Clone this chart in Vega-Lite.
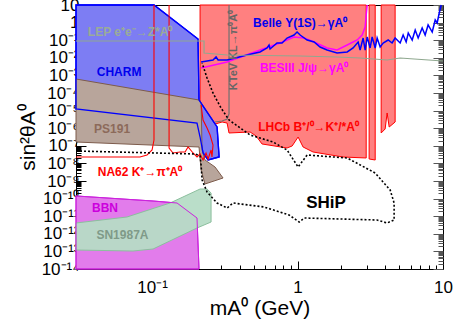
{
  "$schema": "https://vega.github.io/schema/vega-lite/v6.json",
  "autosize": "none",
  "padding": {"left": 76, "top": 5, "right": 11, "bottom": 58},
  "width": 367,
  "height": 264,
  "config": {"font": "Liberation Sans", "view": {"stroke": "black", "strokeWidth": 1}},
  "datasets": {
    "lhcb": [
      {"part": "a", "m": 0.2138, "s": 10}, {"part": "a", "m": 2.965, "s": 10}, {"part": "a", "m": 2.965, "s": 2.03e-8},
      {"part": "a", "m": 2.056, "s": 2.31e-8}, {"part": "a", "m": 1.279, "s": 4.44e-8}, {"part": "a", "m": 1.092, "s": 8.55e-8},
      {"part": "a", "m": 1.009, "s": 3.16e-7}, {"part": "a", "m": 0.918, "s": 9.75e-8}, {"part": "a", "m": 0.847, "s": 7.5e-8},
      {"part": "a", "m": 0.570, "s": 1.27e-7}, {"part": "a", "m": 0.519, "s": 3.6e-7}, {"part": "a", "m": 0.472, "s": 6.08e-7},
      {"part": "a", "m": 0.338, "s": 5.34e-7}, {"part": "a", "m": 0.328, "s": 1.97e-6}, {"part": "a", "m": 0.303, "s": 2.25e-6},
      {"part": "a", "m": 0.258, "s": 1.52e-6}, {"part": "a", "m": 0.224, "s": 5.62e-6}, {"part": "a", "m": 0.2138, "s": 2.08e-5},
      {"part": "b", "m": 3.105, "s": 10}, {"part": "b", "m": 3.419, "s": 10}, {"part": "b", "m": 3.419, "s": 1.56e-8}, {"part": "b", "m": 3.105, "s": 1.78e-8},
      {"part": "c", "m": 3.758, "s": 10}, {"part": "c", "m": 4.688, "s": 10}, {"part": "c", "m": 4.688, "s": 2.25e-6},
      {"part": "c", "m": 4.266, "s": 1.17e-6}, {"part": "c", "m": 4.13, "s": 7.31e-6}, {"part": "c", "m": 4.001, "s": 9.01e-7},
      {"part": "c", "m": 3.758, "s": 5.34e-7}
    ],
    "charm": [
      {"m": 0.03, "s": 10}, {"m": 0.1031, "s": 10}, {"m": 0.207, "s": 0.117}, {"m": 0.2103, "s": 4.0e-5},
      {"m": 0.2799, "s": 1.17e-6}, {"m": 0.2891, "s": 2.31e-8}, {"m": 0.2427, "s": 1.56e-8}, {"m": 0.2241, "s": 3.9e-8},
      {"m": 0.2138, "s": 3.16e-7}, {"m": 0.2037, "s": 1.97e-6}, {"m": 0.03, "s": 1.23e-5}
    ],
    "ps191": [
      {"m": 0.03, "s": 6.24e-4}, {"m": 0.2103, "s": 4.0e-5}, {"m": 0.2173, "s": 2.7e-5}, {"m": 0.2208, "s": 5.77e-8},
      {"m": 0.2312, "s": 1.56e-8}, {"m": 0.271, "s": 6.24e-9}, {"m": 0.3076, "s": 1.48e-9}, {"m": 0.2312, "s": 6.76e-10},
      {"m": 0.2173, "s": 4.22e-9}, {"m": 0.2103, "s": 8.55e-8}, {"m": 0.03, "s": 1.64e-7}
    ],
    "bbn": [
      {"m": 0.03, "s": 1.41e-10}, {"m": 0.1016, "s": 7.3e-11}, {"m": 0.1485, "s": 5.62e-11}, {"m": 0.2037, "s": 7.9e-12},
      {"m": 0.2103, "s": 1e-14}, {"m": 0.03, "s": 1e-14}
    ],
    "sn": [
      {"m": 0.03, "s": 4.11e-12}, {"m": 0.0673, "s": 9.01e-12}, {"m": 0.1329, "s": 5.62e-11}, {"m": 0.2138, "s": 3.51e-10},
      {"m": 0.2388, "s": 3.51e-10}, {"m": 0.2545, "s": 2.08e-10}, {"m": 0.2545, "s": 4.68e-12}, {"m": 0.2037, "s": 2.14e-12},
      {"m": 0.1016, "s": 1.37e-13}, {"m": 0.074, "s": 1.05e-13}, {"m": 0.03, "s": 1.2e-13}
    ],
    "na62": [
      {"part": "a", "m": 0.03, "s": 2.31e-8}, {"part": "a", "m": 0.0826, "s": 2.31e-8}, {"part": "a", "m": 0.0923, "s": 3.0e-8},
      {"part": "a", "m": 0.1, "s": 5.77e-8}, {"part": "a", "m": 0.1031, "s": 2.14e-7}, {"part": "a", "m": 0.1031, "s": 10},
      {"part": "b", "m": 0.1309, "s": 10}, {"part": "b", "m": 0.1309, "s": 7.5e-8}, {"part": "b", "m": 0.1393, "s": 3.9e-8},
      {"part": "b", "m": 0.1556, "s": 4.44e-8}, {"part": "b", "m": 0.1686, "s": 4.44e-8}, {"part": "b", "m": 0.1768, "s": 8.55e-8},
      {"part": "b", "m": 0.1914, "s": 3.9e-8}, {"part": "b", "m": 0.2037, "s": 2.31e-8}, {"part": "b", "m": 0.2138, "s": 3.42e-8},
      {"part": "b", "m": 0.2241, "s": 1.56e-8}, {"part": "b", "m": 0.235, "s": 3.9e-8}, {"part": "b", "m": 0.2427, "s": 1.78e-8},
      {"part": "b", "m": 0.2545, "s": 5.77e-8}, {"part": "b", "m": 0.2582, "s": 2.31e-8}, {"part": "b", "m": 0.2624, "s": 1.11e-7},
      {"part": "b", "m": 0.2506, "s": 4.11e-7}, {"part": "b", "m": 0.2388, "s": 1.03e-6}, {"part": "b", "m": 0.2241, "s": 2.92e-6},
      {"part": "b", "m": 0.2173, "s": 2.08e-5}
    ],
    "ship": [
      {"m": 0.03, "s": 5.07e-8}, {"m": 0.1064, "s": 3.9e-8}, {"m": 0.1974, "s": 3.42e-8}, {"m": 0.2138, "s": 2.63e-8},
      {"m": 0.2173, "s": 8.11e-9}, {"m": 0.2208, "s": 1.14e-9}, {"m": 0.2388, "s": 2.37e-10}, {"m": 0.2799, "s": 5.62e-11},
      {"m": 0.3281, "s": 2.92e-11}, {"m": 0.3606, "s": 5.62e-11}, {"m": 0.5888, "s": 3.33e-11}, {"m": 0.875, "s": 1.17e-11},
      {"m": 1.026, "s": 4.68e-12}, {"m": 1.11, "s": 7.9e-12}, {"m": 3.525, "s": 6.08e-12}, {"m": 4.13, "s": 4.11e-12},
      {"m": 4.613, "s": 6.08e-12}, {"m": 4.613, "s": 5.62e-11}, {"m": 4.334, "s": 3.08e-10}, {"m": 3.419, "s": 2.85e-9},
      {"m": 2.195, "s": 2.03e-8}, {"m": 1.164, "s": 3.0e-8}, {"m": 1.009, "s": 6.24e-9}, {"m": 0.8474, "s": 5.77e-8},
      {"m": 0.6792, "s": 1.64e-7}, {"m": 0.4721, "s": 4.11e-7}, {"m": 0.3381, "s": 2.92e-6}, {"m": 0.2979, "s": 1.41e-5},
      {"m": 0.2624, "s": 1.0e-4}, {"m": 0.2388, "s": 7.11e-4}, {"m": 0.2208, "s": 5.07e-3}
    ],
    "belle": [
      {"m": 0.2173, "s": 5.77e-3}, {"m": 0.2624, "s": 7.5e-3}, {"m": 0.2754, "s": 1.11e-2}, {"m": 0.2844, "s": 7.5e-3},
      {"m": 0.3281, "s": 7.5e-3}, {"m": 0.4498, "s": 1.44e-2}, {"m": 0.5521, "s": 2.14e-2}, {"m": 0.6174, "s": 3.61e-2},
      {"m": 0.6371, "s": 5.34e-2}, {"m": 0.6475, "s": 3.16e-2}, {"m": 0.7228, "s": 6.94e-2}, {"m": 0.7828, "s": 6.94e-2},
      {"m": 0.8474, "s": 0.133}, {"m": 0.9462, "s": 0.197}, {"m": 0.9931, "s": 0.292}, {"m": 1.042, "s": 0.197},
      {"m": 1.164, "s": 0.1026}, {"m": 1.3, "s": 0.0791}, {"m": 1.429, "s": 0.0411}, {"m": 1.596, "s": 0.0277},
      {"m": 1.871, "s": 0.0187}, {"m": 2.195, "s": 0.0214}, {"m": 2.41, "s": 0.0361}, {"m": 2.61, "s": 0.0791},
      {"m": 2.692, "s": 0.0277}, {"m": 2.825, "s": 0.133}, {"m": 2.917, "s": 0.0277}, {"m": 3.013, "s": 0.152},
      {"m": 3.155, "s": 0.0361}, {"m": 3.258, "s": 0.152}, {"m": 3.419, "s": 0.0361}, {"m": 3.525, "s": 0.133},
      {"m": 3.698, "s": 0.0411}, {"m": 3.878, "s": 0.0694}, {"m": 4.198, "s": 0.1026}, {"m": 4.467, "s": 0.0694},
      {"m": 4.688, "s": 0.133}, {"m": 5.075, "s": 0.0694}, {"m": 5.32, "s": 0.197}, {"m": 5.58, "s": 0.0791},
      {"m": 5.77, "s": 0.257}, {"m": 6.14, "s": 0.1026}, {"m": 6.44, "s": 0.38}, {"m": 6.75, "s": 0.133},
      {"m": 7.19, "s": 0.493}, {"m": 7.538, "s": 0.197}, {"m": 7.9, "s": 0.731}, {"m": 8.43, "s": 0.292},
      {"m": 8.84, "s": 1.41}, {"m": 9.12, "s": 0.948}, {"m": 9.42, "s": 3.51}, {"m": 9.72, "s": 10}
    ],
    "besiii": [
      {"m": 0.2173, "s": 2.63e-3}, {"m": 0.3281, "s": 5.77e-3}, {"m": 0.5521, "s": 0.0277}, {"m": 0.7586, "s": 0.0694},
      {"m": 0.9462, "s": 0.152}, {"m": 1.11, "s": 0.133}, {"m": 1.3, "s": 0.0791}, {"m": 1.596, "s": 0.0361},
      {"m": 1.871, "s": 0.0277}, {"m": 2.195, "s": 0.0534}, {"m": 2.57, "s": 0.1026}, {"m": 2.78, "s": 0.197},
      {"m": 2.917, "s": 0.562}, {"m": 2.965, "s": 2.7}, {"m": 3.013, "s": 10}
    ],
    "lep": [
      {"m": 0.03, "s": 0.0901}, {"m": 0.2277, "s": 0.0901}, {"m": 0.2277, "s": 0.0187}, {"m": 0.3281, "s": 0.0144},
      {"m": 1.042, "s": 0.01265}, {"m": 1.871, "s": 0.0111}, {"m": 2.692, "s": 0.00975}, {"m": 4.13, "s": 0.0075},
      {"m": 5.075, "s": 0.00975}, {"m": 6.339, "s": 0.00855}, {"m": 10, "s": 0.00658}
    ],
    "ktev": [
      {"m": 0.3381, "s": 10}, {"m": 0.3381, "s": 6.41e-6}, {"m": 0.3281, "s": 3.33e-6}, {"m": 0.3027, "s": 2.56e-6}, {"m": 0.271, "s": 2.25e-6}
    ],
    "streaks": [{"m": 0.0368}, {"m": 0.077}, {"m": 0.1607}, {"m": 0.69}, {"m": 1.429}],
    "labels": [
      {"m": 0.0706, "s": 0.292, "label": "LEP e⁺e⁻→Z*A⁰"},
      {"m": 0.0593, "s": 1.56e-3, "label": "CHARM"},
      {"m": 0.0531, "s": 9.01e-7, "label": "PS191"},
      {"m": 0.0826, "s": 3.25e-9, "label": "NA62 K⁺→π⁺A⁰"},
      {"m": 0.0475, "s": 2.92e-11, "label": "BBN"},
      {"m": 0.0626, "s": 9.01e-13, "label": "SN1987A"},
      {"m": 1.042, "s": 0.948, "label": "Belle Υ(1S)→γA⁰"},
      {"m": 1.11, "s": 2.63e-3, "label": "BESIII J/ψ→γA⁰"},
      {"m": 1.19, "s": 1.17e-6, "label": "LHCb B⁺/⁰→K⁺/*A⁰"}
    ],
    "ktevlabel": [{"m": 0.3664, "s": 0.0277, "label": "KTeV KL→π⁰A⁰"}],
    "shiplabel": [{"m": 1.57, "s": 5.62e-11, "label": "SHiP"}]
  },
  "layer": [
    {
      "encoding": {
        "x": {
          "field": "m", "type": "quantitative",
          "scale": {"type": "log", "domain": [0.03, 10], "nice": false},
          "axis": {
            "values": [0.03, 0.04, 0.05, 0.06, 0.07, 0.08, 0.09, 0.1, 0.2, 0.3, 0.4, 0.5, 0.6, 0.7, 0.8, 0.9, 1, 2, 3, 4, 5, 6, 7, 8, 9, 10],
            "labelExpr": "datum.value == 0.1 ? '10⁻¹' : (datum.value == 1 ? '1' : (datum.value == 10 ? '10' : ''))",
            "labelFontSize": 17, "labelColor": "black", "labelPadding": 18,
            "labelOverlap": false, "labelFlush": false, "labelBound": false,
            "tickColor": "black",
            "tickSize": {"condition": {"test": "datum.value == 0.1 || datum.value == 1 || datum.value == 10", "value": -8}, "value": -4},
            "domainColor": "black", "grid": false,
            "title": "mA⁰ (GeV)", "titleFontSize": 21, "titleFontWeight": "normal", "titleColor": "black", "titlePadding": -2
          }
        },
        "y": {
          "field": "s", "type": "quantitative",
          "scale": {"type": "log", "domain": [1e-14, 10], "nice": false},
          "axis": {
            "values": [1e-14,2e-14,3e-14,4e-14,5e-14,6e-14,7e-14,8e-14,9e-14,1e-13,2e-13,3e-13,4e-13,5e-13,6e-13,7e-13,8e-13,9e-13,1e-12,2e-12,3e-12,4e-12,5e-12,6e-12,7e-12,8e-12,9e-12,1e-11,2e-11,3e-11,4e-11,5e-11,6e-11,7e-11,8e-11,9e-11,1e-10,2e-10,3e-10,4e-10,5e-10,6e-10,7e-10,8e-10,9e-10,1e-9,2e-9,3e-9,4e-9,5e-9,6e-9,7e-9,8e-9,9e-9,1e-8,2e-8,3e-8,4e-8,5e-8,6e-8,7e-8,8e-8,9e-8,1e-7,2e-7,3e-7,4e-7,5e-7,6e-7,7e-7,8e-7,9e-7,1e-6,2e-6,3e-6,4e-6,5e-6,6e-6,7e-6,8e-6,9e-6,1e-5,2e-5,3e-5,4e-5,5e-5,6e-5,7e-5,8e-5,9e-5,1e-4,2e-4,3e-4,4e-4,5e-4,6e-4,7e-4,8e-4,9e-4,1e-3,2e-3,3e-3,4e-3,5e-3,6e-3,7e-3,8e-3,9e-3,0.01,0.02,0.03,0.04,0.05,0.06,0.07,0.08,0.09,0.1,0.2,0.3,0.4,0.5,0.6,0.7,0.8,0.9,1,2,3,4,5,6,7,8,9,10],
            "labelExpr": "abs(log(datum.value)/LN10 - round(log(datum.value)/LN10)) < 1e-6 ? ['10⁻¹⁴','10⁻¹³','10⁻¹²','10⁻¹¹','10⁻¹⁰','10⁻⁹','10⁻⁸','10⁻⁷','10⁻⁶','10⁻⁵','10⁻⁴','10⁻³','10⁻²','10⁻¹','1','10'][round(log(datum.value)/LN10) + 14] : ''",
            "labelFontSize": 17, "labelColor": "black", "labelPadding": 7,
            "labelOverlap": false, "labelFlush": false, "labelBound": false,
            "tickColor": "black",
            "tickSize": {"condition": {"test": "abs(log(datum.value)/LN10 - round(log(datum.value)/LN10)) < 1e-6", "value": -10}, "value": -5},
            "domainColor": "black", "grid": false,
            "title": "sin²θA⁰", "titleFontSize": 21, "titleFontWeight": "normal", "titleColor": "black", "titlePadding": 3
          }
        },
        "order": {"value": null}
      },
      "layer": [
        {"data": {"name": "lhcb"}, "mark": {"type": "line", "fill": "#ff8080", "stroke": "#ff0000", "strokeWidth": 1, "interpolate": "linear-closed"}, "encoding": {"detail": {"field": "part"}}},
        {"data": {"name": "bbn"}, "mark": {"type": "line", "fill": "#e27ceb", "stroke": "#cc22dd", "strokeWidth": 1, "interpolate": "linear-closed"}},
        {"data": {"name": "sn"}, "mark": {"type": "line", "fill": "#b6dcc6", "fillOpacity": 0.95, "stroke": "#8cbf9e", "strokeWidth": 1, "interpolate": "linear-closed"}},
        {"data": {"name": "bbn"}, "mark": {"type": "line", "stroke": "#cc22dd", "strokeWidth": 1, "interpolate": "linear-closed"}},
        {"data": {"name": "charm"}, "mark": {"type": "line", "fill": "#7d7df3", "stroke": "#0000ff", "strokeWidth": 1.3, "interpolate": "linear-closed"}},
        {"data": {"name": "ps191"}, "mark": {"type": "line", "fill": "#b8a59b", "stroke": "#7d5b4b", "strokeWidth": 1, "interpolate": "linear-closed"}},
        {"data": {"name": "streaks"}, "mark": {"type": "rule", "color": "white", "opacity": 0.45, "strokeWidth": 1}, "encoding": {"y": {"datum": 1e-14}, "y2": {"datum": 10}}},
        {"data": {"name": "ktev"}, "mark": {"type": "line", "stroke": "#707070", "strokeWidth": 1.2}},
        {"data": {"name": "besiii"}, "mark": {"type": "line", "stroke": "#ff00ff", "strokeWidth": 1.5}},
        {"data": {"name": "belle"}, "mark": {"type": "line", "stroke": "#0000ff", "strokeWidth": 1.5}},
        {"data": {"name": "charm"}, "mark": {"type": "line", "stroke": "#0000ff", "strokeWidth": 1.3, "interpolate": "linear-closed"}},
        {"data": {"name": "na62"}, "mark": {"type": "line", "stroke": "#ff0000", "strokeWidth": 1.1}, "encoding": {"detail": {"field": "part"}}},
        {"data": {"name": "ship"}, "mark": {"type": "line", "stroke": "black", "strokeWidth": 1.6, "strokeDash": [2, 2]}},
        {
          "data": {"name": "labels"},
          "mark": {"type": "text", "font": "Liberation Sans", "fontSize": 12, "fontWeight": "bold", "align": "center", "baseline": "middle"},
          "encoding": {
            "text": {"field": "label"},
            "color": {
              "field": "label", "type": "nominal", "legend": null,
              "scale": {
                "domain": ["LEP e⁺e⁻→Z*A⁰", "CHARM", "PS191", "NA62 K⁺→π⁺A⁰", "BBN", "SN1987A", "Belle Υ(1S)→γA⁰", "BESIII J/ψ→γA⁰", "LHCb B⁺/⁰→K⁺/*A⁰"],
                "range": ["#9aab98", "#0000ee", "#8c6a5a", "#ff0000", "#cc00dd", "#7f9a88", "#0000ee", "#ff00ff", "#ff0000"]
              }
            }
          }
        },
        {
          "data": {"name": "ktevlabel"},
          "mark": {"type": "text", "font": "Liberation Sans", "fontSize": 11, "fontWeight": "bold", "align": "center", "baseline": "middle", "angle": 270, "color": "#666666"},
          "encoding": {"text": {"field": "label"}}
        },
        {
          "data": {"name": "shiplabel"},
          "mark": {"type": "text", "font": "Liberation Sans", "fontSize": 17, "fontWeight": "bold", "align": "center", "baseline": "middle", "color": "black"},
          "encoding": {"text": {"field": "label"}}
        }
      ]
    },
    {
      "data": {"name": "lep"},
      "mark": {"type": "line", "stroke": "#8fa88f", "strokeWidth": 1.2},
      "encoding": {
        "x": {"field": "m", "type": "quantitative", "scale": {"type": "log", "domain": [0.03, 10], "nice": false}, "axis": null},
        "y": {
          "field": "s", "type": "quantitative",
          "scale": {"type": "log", "domain": [1e-14, 10], "nice": false},
          "axis": {
            "orient": "right",
            "values": [1e-14,2e-14,3e-14,4e-14,5e-14,6e-14,7e-14,8e-14,9e-14,1e-13,2e-13,3e-13,4e-13,5e-13,6e-13,7e-13,8e-13,9e-13,1e-12,2e-12,3e-12,4e-12,5e-12,6e-12,7e-12,8e-12,9e-12,1e-11,2e-11,3e-11,4e-11,5e-11,6e-11,7e-11,8e-11,9e-11,1e-10,2e-10,3e-10,4e-10,5e-10,6e-10,7e-10,8e-10,9e-10,1e-9,2e-9,3e-9,4e-9,5e-9,6e-9,7e-9,8e-9,9e-9,1e-8,2e-8,3e-8,4e-8,5e-8,6e-8,7e-8,8e-8,9e-8,1e-7,2e-7,3e-7,4e-7,5e-7,6e-7,7e-7,8e-7,9e-7,1e-6,2e-6,3e-6,4e-6,5e-6,6e-6,7e-6,8e-6,9e-6,1e-5,2e-5,3e-5,4e-5,5e-5,6e-5,7e-5,8e-5,9e-5,1e-4,2e-4,3e-4,4e-4,5e-4,6e-4,7e-4,8e-4,9e-4,1e-3,2e-3,3e-3,4e-3,5e-3,6e-3,7e-3,8e-3,9e-3,0.01,0.02,0.03,0.04,0.05,0.06,0.07,0.08,0.09,0.1,0.2,0.3,0.4,0.5,0.6,0.7,0.8,0.9,1,2,3,4,5,6,7,8,9,10],
            "labels": false, "domain": false, "grid": false, "title": null,
            "tickColor": "#555555",
            "tickSize": {"condition": {"test": "abs(log(datum.value)/LN10 - round(log(datum.value)/LN10)) < 1e-6", "value": -10}, "value": -5}
          }
        },
        "order": {"value": null}
      }
    }
  ],
  "resolve": {"axis": {"x": "independent", "y": "independent"}}
}
